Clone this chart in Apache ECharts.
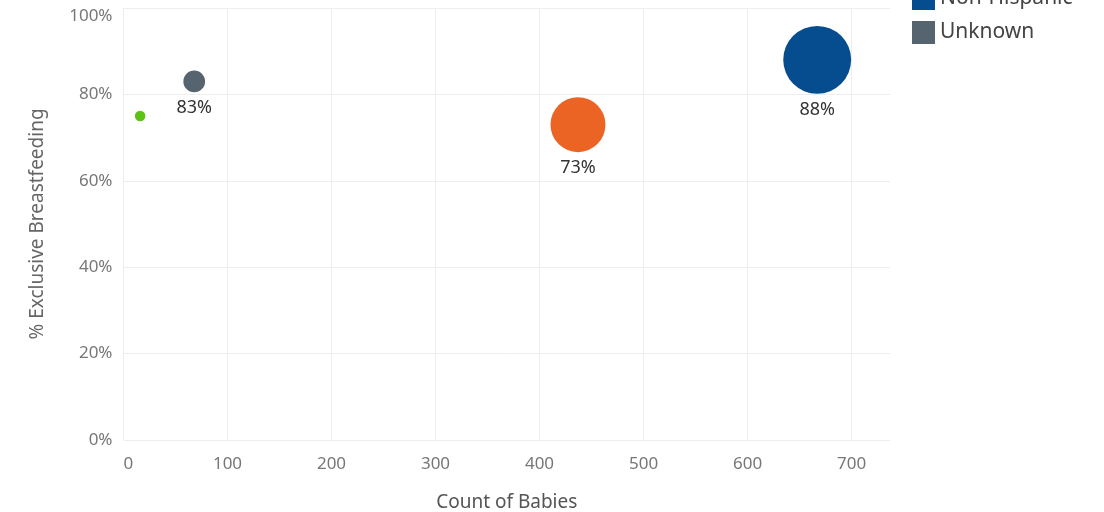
<!DOCTYPE html>
<html>
<head>
<meta charset="utf-8">
<script src="https://cdn.jsdelivr.net/npm/echarts@6/dist/echarts.min.js"></script>
<style>
    html, body { margin: 0; padding: 0; background: #fff; }
    #chart { width: 1104px; height: 512px; }
</style>
</head>
<body>
<div id="chart"></div>
<script>
// groups shown as bubbles: [count of babies, % exclusive breastfeeding]
const groupNames = ['Hispanic', 'Declined', 'Non-Hispanic', 'Unknown']
const groupColors = ['#ec6424', '#5cc214', '#054d8f', '#56646f']
const groupCounts = [437, 16, 667, 68]
const groupPercents = [73, 75, 88, 83]
const groupLabels = [true, false, true, true]
const yTicks = [0, 20, 40, 60, 80, 100]

const chart = echarts.init(document.getElementById('chart'))
const fontFamily = '"Noto Sans", sans-serif'

const series = groupNames.map((name, i) => ({
    name: name,
    type: 'scatter',
    data: [[groupCounts[i], groupPercents[i]]],
    symbolSize: v => Math.sqrt(v[0]) * 2.63,
    itemStyle: { color: groupColors[i], opacity: 1 },
    label: {
        show: groupLabels[i],
        position: 'bottom',
        distance: 7,
        formatter: p => p.value[1] + '%',
        color: '#333',
        fontSize: 18,
        fontFamily: fontFamily
    }
}))

chart.setOption({
    animation: false,
    grid: { left: 123.5, right: 214, top: 8, bottom: 72, outerBoundsMode: 'none' },
    legend: {
        orient: 'vertical',
        left: 907,
        top: -86,
        icon: 'rect',
        itemWidth: 23,
        itemHeight: 23,
        itemGap: 11,
        data: groupNames,
        textStyle: { color: '#444', fontSize: 21, fontFamily: fontFamily }
    },
    xAxis: {
        type: 'value',
        min: 0,
        max: 737,
        interval: 100,
        name: 'Count of Babies',
        nameLocation: 'middle',
        nameGap: 53,
        nameTextStyle: { color: '#555', fontSize: 19, fontFamily: fontFamily },
        axisLine: { show: false },
        axisTick: { show: false },
        axisLabel: {
            color: '#777', fontSize: 17, fontFamily: fontFamily, margin: 16,
            showMaxLabel: false, alignMinLabel: 'left'
        },
        splitLine: { show: true, showMaxLine: false, lineStyle: { color: '#eeeeee' } }
    },
    yAxis: {
        type: 'value',
        min: yTicks[0],
        max: yTicks[yTicks.length - 1],
        interval: 20,
        name: '% Exclusive Breastfeeding',
        nameLocation: 'middle',
        nameGap: 76,
        nameTextStyle: { color: '#666', fontSize: 19, fontFamily: fontFamily },
        axisLine: { show: false },
        axisTick: { show: false },
        axisLabel: {
            color: '#777', fontSize: 17, fontFamily: fontFamily, margin: 11,
            formatter: '{value}%', verticalAlignMaxLabel: 'top'
        },
        splitLine: { show: true, lineStyle: { color: '#eeeeee' } }
    },
    series: series
})
</script>
</body>
</html>
